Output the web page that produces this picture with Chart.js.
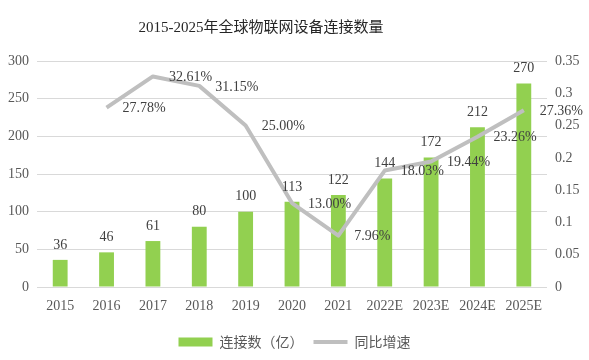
<!DOCTYPE html>
<html>
<head>
<meta charset="utf-8">
<script src="https://cdn.jsdelivr.net/npm/chart.js@4/dist/chart.umd.min.js"></script>
<style>
  html, body { margin: 0; padding: 0; background: #fff; }
  #wrap { width: 589px; height: 360px; }
</style>
</head>
<body>
<div id="wrap"><canvas id="myChart" width="589" height="360"></canvas></div>
<script>
// DATA
const years = ["2015", "2016", "2017", "2018", "2019", "2020", "2021", "2022E", "2023E", "2024E", "2025E"];
const connections = [36, 46, 61, 80, 100, 113, 122, 144, 172, 212, 270];
const growth = [null, 0.2778, 0.3261, 0.3115, 0.25, 0.13, 0.0796, 0.1803, 0.1944, 0.2326, 0.2736];
const growthLabels = ["", "27.78%", "32.61%", "31.15%", "25.00%", "13.00%", "7.96%", "18.03%", "19.44%", "23.26%", "27.36%"];

const titleText = "2015-2025年全球物联网设备连接数量";
const serif = "Liberation Serif, Noto Sans CJK SC, serif";
const textColor = "#404040";

Chart.defaults.font.family = serif;
Chart.defaults.font.size = 14;

// TITLE + VALUE LABELS
const labelPlugin = {
  id: "labelPlugin",
  afterDraw: function (chart) {
    const ctx = chart.ctx;
    ctx.save();
    ctx.fillStyle = "#262626";
    ctx.font = "15px " + serif;
    ctx.textAlign = "center";
    ctx.textBaseline = "middle";
    ctx.fillText(titleText, 261, 28);

    ctx.font = "14px " + serif;
    ctx.fillStyle = textColor;

    // bar values
    const bars = chart.getDatasetMeta(0).data;
    bars.forEach(function (bar, i) {
      ctx.textAlign = "center";
      ctx.textBaseline = "bottom";
      ctx.fillText(String(connections[i]), bar.x, bar.y - 8);
    });

    // growth values
    const points = chart.getDatasetMeta(1).data;
    points.forEach(function (pt, i) {
      if (growth[i] === null) return;
      ctx.textAlign = "left";
      ctx.textBaseline = "middle";
      ctx.fillText(growthLabels[i], pt.x + 16, pt.y + 1);
    });
    ctx.restore();
  },
};

function drawChart() {
  const ctx = document.getElementById("myChart");

  new Chart(ctx, {
    type: "bar",
    data: {
      labels: years,
      datasets: [
        {
          type: "bar",
          label: "连接数（亿）",
          data: connections,
          backgroundColor: "#92d050",
          borderWidth: 0,
          barPercentage: 0.32,
          categoryPercentage: 1,
          yAxisID: "y",
          order: 1,
          pointStyle: "rect",
        },
        {
          type: "line",
          label: "同比增速",
          data: growth,
          borderColor: "#bfbfbf",
          backgroundColor: "#bfbfbf",
          borderWidth: 4,
          pointRadius: 0,
          tension: 0,
          borderJoinStyle: "round",
          yAxisID: "y1",
          order: 0,
          pointStyle: "line",
        },
      ],
    },
    options: {
      responsive: false,
      animation: false,
      layout: {
        padding: { top: 61, left: 0, right: 0, bottom: 1 },
      },
      plugins: {
        title: { display: false },
        tooltip: { enabled: false },
        legend: {
          position: "bottom",
          labels: {
            usePointStyle: true,
            pointStyleWidth: 34,
            boxWidth: 34,
            boxHeight: 9,
            padding: 10,
            color: "#595959",
            font: { size: 14, family: "Noto Sans CJK SC, sans-serif" },
            sort: function (a, b) {
              return a.datasetIndex - b.datasetIndex;
            },
          },
        },
      },
      scales: {
        x: {
          grid: { display: false, drawTicks: false },
          border: { display: false },
          ticks: {
            color: "#595959",
            padding: 11,
            maxRotation: 0,
            autoSkip: false,
            font: { size: 14, family: serif },
          },
          afterFit: function (scale) {
            scale.height = 38;
          },
        },
        y: {
          position: "left",
          min: 0,
          max: 300,
          ticks: {
            stepSize: 50,
            color: "#595959",
            padding: 8,
            font: { size: 14, family: serif },
          },
          grid: { color: "#d9d9d9", lineWidth: 1, drawTicks: false },
          border: { display: false },
          afterFit: function (scale) {
            scale.width = 37;
          },
        },
        y1: {
          position: "right",
          min: 0,
          max: 0.35,
          ticks: {
            stepSize: 0.05,
            color: "#595959",
            padding: 8,
            font: { size: 14, family: serif },
            callback: function (value) {
              return String(Number(value.toFixed(2)));
            },
          },
          grid: { display: false, drawTicks: false },
          border: { display: false },
          afterFit: function (scale) {
            scale.width = 42;
          },
        },
      },
    },
    plugins: [labelPlugin],
  });
}

// make sure the serif font is ready before the first draw
if (document.fonts && document.fonts.load) {
  Promise.all([
    document.fonts.load("14px Liberation Serif"),
    document.fonts.load("14px Noto Sans CJK SC"),
  ]).then(drawChart, drawChart);
} else {
  drawChart();
}
</script>
</body>
</html>
